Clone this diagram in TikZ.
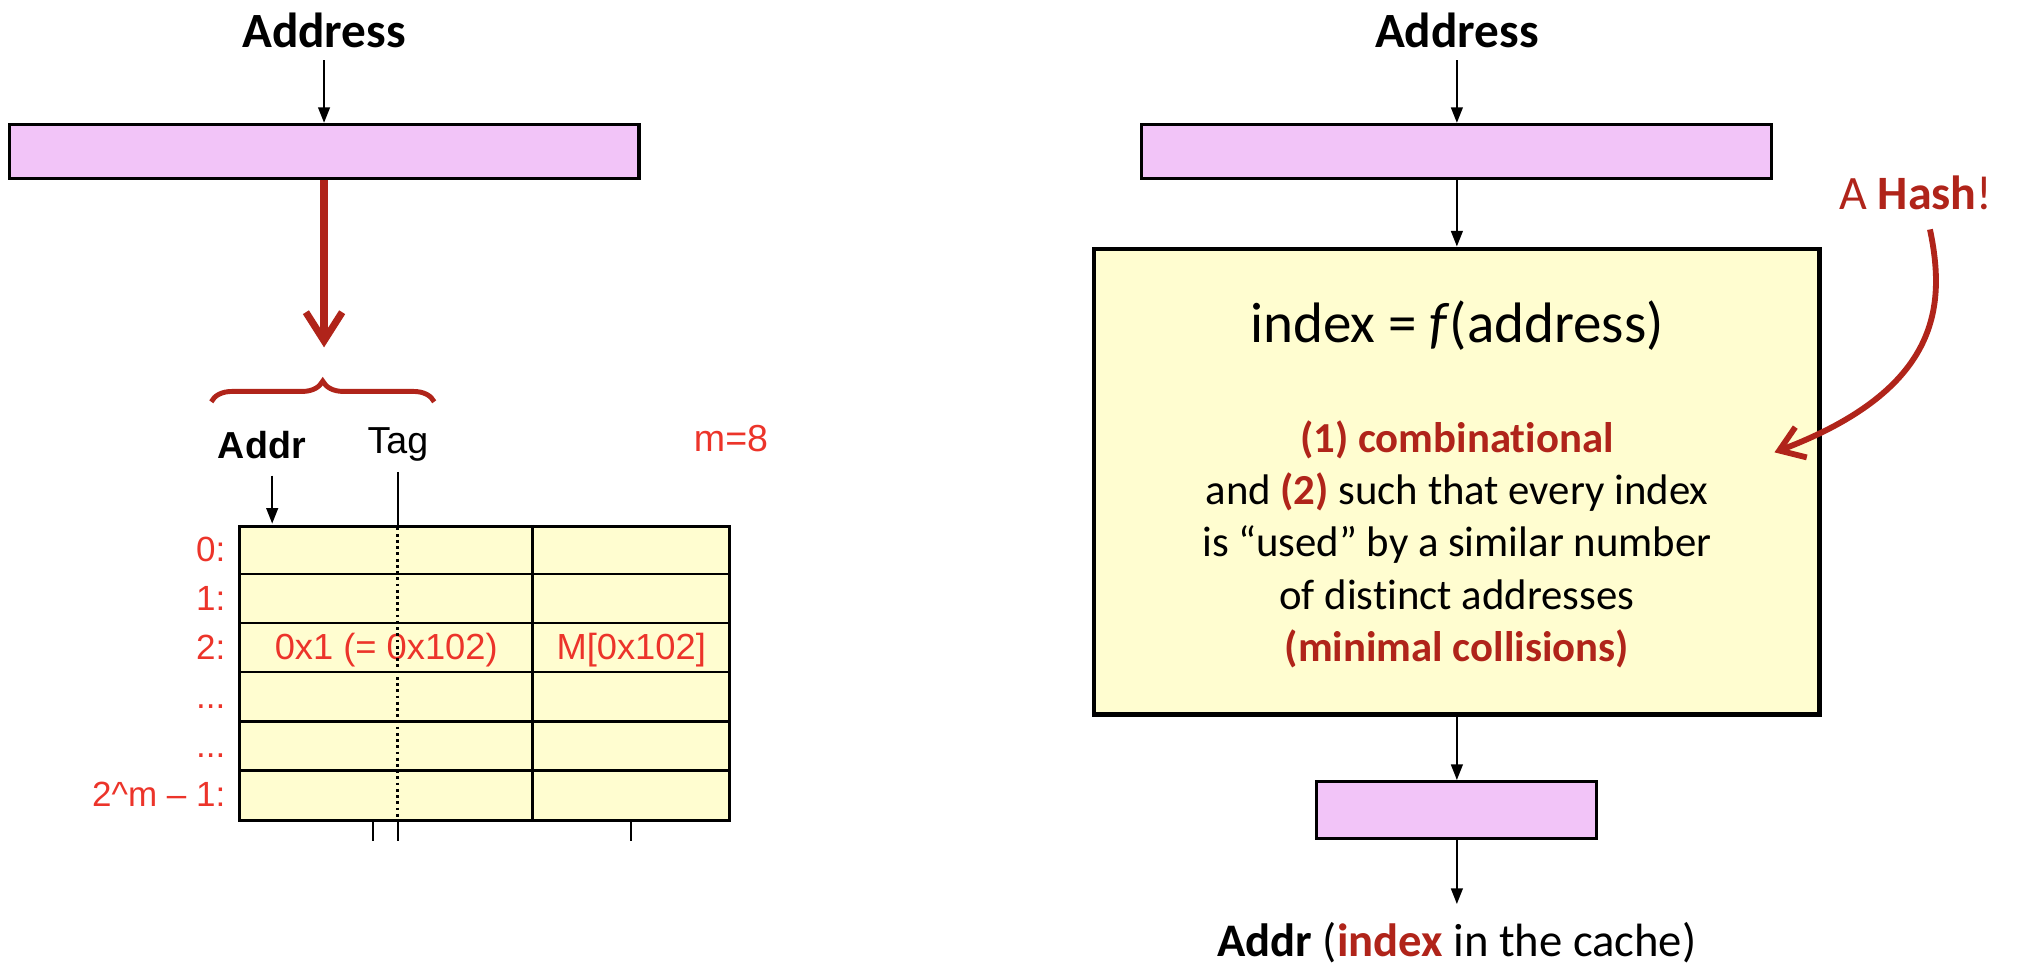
\documentclass[tikz,border=0pt]{standalone}
\usepackage{fontspec}
\setmainfont{Carlito}[Ligatures={TeX,NoCommon}]
\newfontfamily\helv{Liberation Sans}[Ligatures=TeX]
\usetikzlibrary{arrows.meta,decorations.pathreplacing}
\definecolor{hashred}{RGB}{176,36,26}
\definecolor{tabred}{RGB}{236,52,42}
\definecolor{pinkfill}{RGB}{242,196,248}
\definecolor{yellowfill}{RGB}{255,253,208}
\newcommand{\myfsize}[1]{\fontsize{#1}{#1}\selectfont}
\begin{document}
\begin{tikzpicture}[x=1pt,y=-1pt,
  pinkbar/.style={draw=black, line width=2.4pt, fill=pinkfill, inner sep=0pt},
  yellowbox/.style={draw=black, line width=3.6pt, fill=yellowfill, inner sep=0pt},
  cellbox/.style={draw=black, line width=2.2pt, fill=yellowfill, inner sep=0pt},
  tabline/.style={draw=black, line width=2.2pt},
  dotline/.style={draw=black, line width=2.4pt, dash pattern=on 2.2pt off 2.6pt},
  titletext/.style={font=\myfsize{38}\bfseries, inner sep=0pt},
  bodytext/.style={font=\myfsize{33}, inner sep=0pt},
  tabtext/.style={font=\helv\myfsize{28}, text=tabred, inner sep=0pt},
  tablabel/.style={font=\helv\myfsize{27}, text=tabred, inner sep=0pt, anchor=base east},
  blackarrow/.style={line width=1.6pt, -{Triangle[length=12pt,width=9pt]}},
  redarrow/.style={draw=hashred, line width=5.5pt, -{Straight Barb[length=22pt,width=28pt]}},
  redcurve/.style={draw=hashred, line width=4.5pt, -{Straight Barb[length=18pt,width=25pt]}},
  bracestyle/.style={draw=hashred, line width=3.8pt, decorate, decoration={brace, amplitude=16pt}}
]
\useasboundingbox (0,0) rectangle (1560,754.5);

% ---------------- left part ----------------
\node[titletext, anchor=base] (addrL) at (250,37) {Address};
\node[pinkbar, minimum width=486pt, minimum height=42pt] (barL) at (250,117) {};
\draw[blackarrow, shorten <=9pt] (addrL.south) -- (barL.north);
\coordinate (redtip) at (250,268);
\draw[redarrow] (barL.south) -- (redtip);

\coordinate (braceL) at (163,310);
\coordinate (braceR) at (335,310);
\draw[bracestyle] (braceL) -- (braceR);

\node[font=\helv\myfsize{29}\bfseries, inner sep=0pt, anchor=base] (addrT) at (202,354) {Addr};
\node[font=\helv\myfsize{29}, inner sep=0pt, anchor=base] (tagT) at (307,350) {Tag};
\node[tabtext, font=\helv\myfsize{29}, anchor=base] (mval) at (564,348) {m=8};

\node[cellbox, minimum width=378pt, minimum height=227pt, anchor=north west] (tbl) at (184,405) {};
\foreach \i in {1,...,5} {
  \draw[tabline] (184,405+\i*37.83) -- (562,405+\i*37.83);
}
\draw[tabline] (411,405) -- (411,632);

\node[tablabel] (lab0) at (174,433.4) {0:};
\node[tablabel] (lab1) at (174,471.2) {1:};
\node[tablabel] (lab2) at (174,509.1) {2:};
\node[tablabel] (lab3) at (174,546.9) {...};
\node[tablabel] (lab4) at (174,584.7) {...};
\node[tablabel] (lab5) at (174,622.6) {2\textasciicircum m – 1:};

\node[tabtext, anchor=base] (tag2) at (298,509.1) {0x1 (= 0x102)};
\node[tabtext, anchor=base] (dat2) at (487,509.1) {M[0x102]};

\coordinate (addrTip) at (210,404);
\draw[blackarrow] (210,367) -- (addrTip);
\coordinate (tagTop) at (307,364);
\draw[tabline, line width=1.6pt] (tagTop) -- (tagTop |- tbl.north);
\draw[dotline] (307,407) -- (307,631);
\draw[tabline, line width=1.6pt] (307,632) -- (307,649);
\draw[tabline, line width=1.6pt] (288,632) -- (288,649);
\draw[tabline, line width=1.6pt] (487,632) -- (487,649);

% ---------------- right part ----------------
\node[titletext, anchor=base] (addrR) at (1124,37) {Address};
\node[pinkbar, minimum width=486pt, minimum height=42pt] (barR) at (1124,117) {};
\node[yellowbox, minimum width=560pt, minimum height=359pt] (hashbox) at (1124,371.5) {};
\node[pinkbar, minimum width=216pt, minimum height=44pt] (outbar) at (1124,625) {};

\node[font=\myfsize{44}, inner sep=0pt, anchor=base] (fx) at (1124,264) {index = \textit{f}(address)};
\node[bodytext, anchor=base] (b1) at (1124,349) {\textcolor{hashred}{\textbf{(1) combinational}}};
\node[bodytext, anchor=base] (b2) at (1124,389) {and \textcolor{hashred}{\textbf{(2)}} such that every index};
\node[bodytext, anchor=base] (b3) at (1124,429) {is “used” by a similar number};
\node[bodytext, anchor=base] (b4) at (1124,470) {of distinct addresses};
\node[bodytext, anchor=base] (b5) at (1124,510) {\textcolor{hashred}{\textbf{(minimal collisions)}}};

\node[font=\myfsize{36}, inner sep=0pt, anchor=base] (addrOut) at (1124,738) {\textbf{Addr} (\textcolor{hashred}{\textbf{index}} in the cache)};
\node[font=\myfsize{37}, text=hashred, inner sep=0pt, anchor=base] (hashlbl) at (1478,162) {A \textbf{Hash}!};

\draw[blackarrow, shorten <=9pt] (addrR.south) -- (barR.north);
\draw[blackarrow] (barR.south) -- (hashbox.north);
\draw[blackarrow] (hashbox.south) -- (outbar.north);
\draw[blackarrow, shorten >=14pt] (outbar.south) -- (addrOut.north);

\coordinate (hashTip) at (1369,349);
\draw[redcurve] (1489,177) .. controls (1501,235) and (1498,300) .. (hashTip);
\end{tikzpicture}
\end{document}
